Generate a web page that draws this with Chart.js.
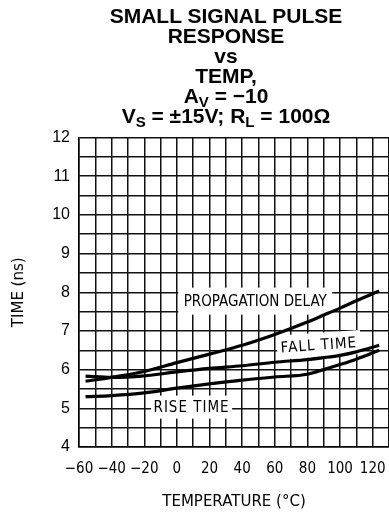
<!DOCTYPE html>
<html>
<head>
<meta charset="utf-8">
<script src="https://cdn.jsdelivr.net/npm/chart.js@4.4.0/dist/chart.umd.min.js"></script>
<style>
  html, body { margin: 0; padding: 0; background: #fff; }
  #wrap { position: relative; width: 389px; height: 514px; overflow: hidden; }
  #title {
    position: absolute; top: 6px; left: 63px; width: 326px;
    text-align: center; font: bold 21px 'Liberation Sans', Arial, sans-serif;
    line-height: 20px; color: #000;
  }
  #title sub { font-size: 15px; vertical-align: -4px; line-height: 0; }
  canvas { position: absolute; top: 0; left: 0; }
</style>
</head>
<body>
<div id="wrap">
  <canvas id="pulseChart" width="389" height="514"></canvas>
  <div id="title">SMALL SIGNAL PULSE<br>RESPONSE<br>vs<br>TEMP,<br>A<sub>V</sub> = &minus;10<br>V<sub>S</sub> = &plusmn;15V; R<sub>L</sub> = 100&Omega;</div>
</div>
<script>
// --- dados ---
const temps = [-56, -40, -20, 0, 20, 40, 60, 80, 90, 100, 110, 124];
const propDelay = [5.70, 5.80, 5.95, 6.18, 6.40, 6.63, 6.91, 7.23, 7.41, 7.59, 7.78, 8.03];
const fallTime = [5.83, 5.80, 5.84, 5.94, 6.03, 6.10, 6.19, 6.26, 6.31, 6.37, 6.46, 6.63];
const riseTime = [5.30, 5.33, 5.40, 5.52, 5.63, 5.73, 5.81, 5.88, 6.00, 6.13, 6.27, 6.50];

const yTickLabels = [4, 5, 6, 7, 8, 9, 10, 11, 12];
const xTickLabels = [-60, -40, -20, 0, 20, 40, 60, 80, 100, 120];

// rótulos das curvas (posição em unidades do gráfico)
const curveLabels = [
    { text: 'PROPAGATION DELAY', t: 48, v: 7.77, w: 154, h: 27, angle: 0, spacing: 0 },
    { text: 'FALL TIME', t: 87, v: 6.64, w: 84, h: 24, angle: -4, spacing: 1 },
    { text: 'RISE TIME', t: 9, v: 5.03, w: 81, h: 23, angle: 0, spacing: 1 }
];

const techFont = "'DejaVu Sans Condensed', 'DejaVu Sans', sans-serif";

function toPoints(ys) {
    return temps.map((t, i) => ({ x: t, y: ys[i] }));
}

function minus(v) {
    return v < 0 ? '\u2212' + Math.abs(v) : String(v);
}

// desenha caixas brancas + texto por cima da grelha, antes das linhas
const curveLabelPlugin = {
    id: 'curveLabels',
    beforeDatasetsDraw(chart) {
        const ctx = chart.ctx;
        const xs = chart.scales.x, ys = chart.scales.y;
        ctx.save();
        curveLabels.forEach(l => {
            const px = xs.getPixelForValue(l.t);
            const py = ys.getPixelForValue(l.v);
            ctx.save();
            ctx.translate(px, py);
            ctx.rotate(l.angle * Math.PI / 180);
            ctx.fillStyle = '#fff';
            ctx.fillRect(-l.w / 2, -l.h / 2, l.w, l.h);
            ctx.fillStyle = '#000';
            ctx.font = '15px ' + techFont;
            ctx.letterSpacing = l.spacing + 'px';
            ctx.textAlign = 'center';
            ctx.textBaseline = 'middle';
            ctx.fillText(l.text, 0, 1);
            ctx.restore();
        });
        ctx.restore();
    }
};

const lineStyle = {
    borderColor: '#000',
    backgroundColor: '#000',
    borderWidth: 3.2,
    pointRadius: 0,
    fill: false,
    cubicInterpolationMode: 'monotone'
};

new Chart(document.getElementById('pulseChart'), {
    type: 'line',
    data: {
        datasets: [
            Object.assign({ label: 'Propagation Delay', data: toPoints(propDelay) }, lineStyle),
            Object.assign({ label: 'Fall Time', data: toPoints(fallTime) }, lineStyle),
            Object.assign({ label: 'Rise Time', data: toPoints(riseTime) }, lineStyle)
        ]
    },
    options: {
        responsive: false,
        animation: false,
        devicePixelRatio: 1,
        layout: { padding: { top: 137.5, left: 0, right: 0, bottom: 0 } },
        plugins: {
            legend: { display: false },
            title: { display: false },
            tooltip: { enabled: false }
        },
        scales: {
            x: {
                type: 'linear',
                min: -60,
                max: 130,
                // sem folga à direita: a grelha vai até à borda
                afterFit: s => { s.height = 67; s.paddingRight = 0; },
                grid: { color: '#111', lineWidth: 1.5, drawTicks: false },
                border: { color: '#000', width: 1.5 },
                ticks: {
                    stepSize: 10,
                    autoSkip: false,
                    maxRotation: 0,
                    padding: 13,
                    color: '#000',
                    font: { family: techFont, size: 15 },
                    callback: v => xTickLabels.includes(v) ? minus(v) : ''
                },
                title: {
                    display: true,
                    text: 'TEMPERATURE (\u00B0C)',
                    color: '#000',
                    font: { family: "'DejaVu Sans', sans-serif", size: 15 },
                    padding: { top: 0, bottom: 3 }
                }
            },
            y: {
                min: 4,
                max: 12,
                afterFit: s => { s.width = 79; },
                grid: { color: '#111', lineWidth: 1.5, drawTicks: false },
                border: { color: '#000', width: 1.5 },
                ticks: {
                    stepSize: 0.5,
                    autoSkip: false,
                    padding: 9,
                    color: '#000',
                    font: { family: "'Liberation Sans Narrow', 'Liberation Sans', sans-serif", size: 16 },
                    callback: v => yTickLabels.includes(v) ? String(v) : ''
                },
                title: {
                    display: true,
                    text: 'TIME (ns)',
                    color: '#000',
                    font: { family: "'DejaVu Sans', sans-serif", size: 15 },
                    padding: { top: 10, bottom: 0 }
                }
            }
        }
    },
    plugins: [curveLabelPlugin]
});
</script>
</body>
</html>
